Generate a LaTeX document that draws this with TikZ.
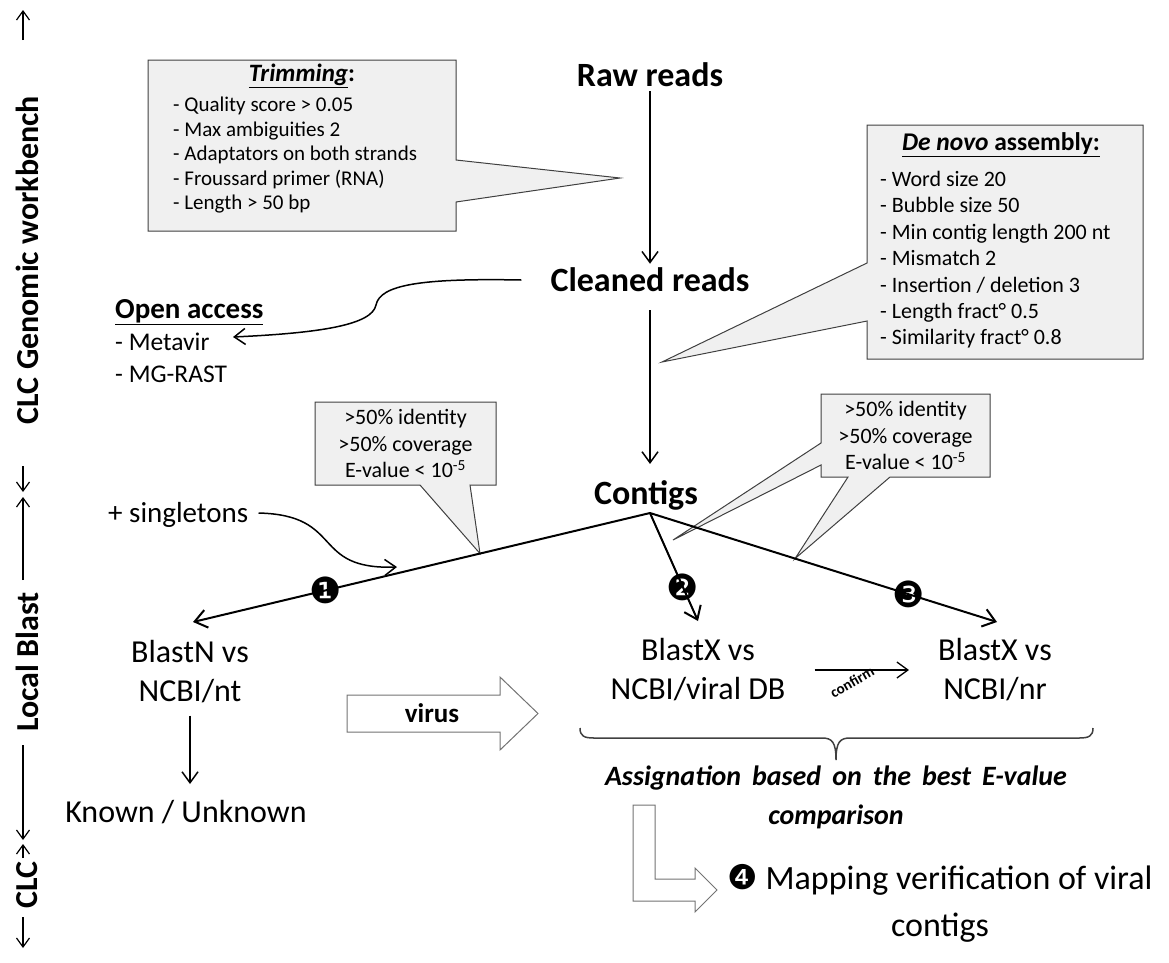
\documentclass[tikz,border=0pt]{standalone}
\usepackage{fontspec}
\setmainfont{Carlito}
\newfontfamily\dingfont{DejaVu Sans}
\usetikzlibrary{arrows.meta,calc}

\newcommand{\fsz}[2]{\fontsize{#1}{#2}\selectfont}

\tikzset{
  headtxt/.style={font=\fsz{34}{40}\bfseries, inner sep=4pt},
  blasttxt/.style={font=\fsz{32}{39}, align=center, inner sep=4pt},
  axistxt/.style={font=\fsz{32}{38}\bfseries, rotate=90, inner sep=0pt},
  listtxt/.style={align=left, inner sep=0pt, anchor=north west},
  crittxt/.style={font=\fsz{22}{26.5}, align=center, inner sep=0pt},
  boxarea/.style={inner sep=0pt, outer sep=0pt},
  callout/.style={fill=black!6, draw=black!75, line width=1pt, line join=miter},
  flowarr/.style={line width=1.5pt, -{Straight Barb[length=11pt,width=16pt]}},
  brancharr/.style={line width=2pt, -{Straight Barb[length=12pt,width=18pt]}},
  axisarr/.style={line width=1.2pt, -{Straight Barb[length=9pt,width=13pt]}},
  numdot/.style={font=\fsz{36}{36}\dingfont, inner sep=0pt},
  hollowarr/.style={draw=black!55, fill=white, line width=1pt, line join=miter},
  bracepen/.style={draw=black!75, line width=1.5pt}
}

\begin{document}
\begin{tikzpicture}[x=1pt, y=-1pt]
\useasboundingbox (0,0) rectangle (1169,962);

% side scale
\node[axistxt] (clcgw) at (27,260) {CLC Genomic workbench};
\node[axistxt] (lblast) at (27,662) {Local Blast};
\node[axistxt] (clc) at (27,885) {CLC};
\draw[axisarr] (23,40) -- (23,10);
\draw[axisarr] (23,466) -- (23,492);
\draw[axisarr] (23,580) -- (23,497);
\draw[axisarr] (23,745) -- (23,840);
\draw[axisarr] (23,858) -- (23,844);
\draw[axisarr] (23,917) -- (23,948);

% trimming callout
\node[boxarea, minimum width=308pt, minimum height=171pt] (trim) at (302,145.5) {};
\coordinate (trimtip) at (620,178);
\draw[callout] (trim.north west) -- (trim.north east) -- ([yshift=-100pt]trim.north east)
  -- (trimtip) -- ([yshift=-142pt]trim.north east) -- (trim.south east) -- (trim.south west) -- cycle;
\node[font=\fsz{25}{28}\bfseries] (trimtitle) at (302,76) {\underline{\textit{Trimming}}:};
\node[listtxt, font=\fsz{21}{24.5}] (trimlist) at (173,97)
  {- Quality score > 0.05\\- Max ambiguities 2\\- Adaptators on both strands\\- Froussard primer (RNA)\\- Length > 50 bp};

% de novo callout
\node[boxarea, minimum width=276pt, minimum height=234pt] (denovo) at (1005,242) {};
\coordinate (dntip) at (662,362);
\draw[callout] (denovo.north west) -- (denovo.north east) -- (denovo.south east) -- (denovo.south west)
  -- ([yshift=-196pt]denovo.north west) -- (dntip) -- ([yshift=-138pt]denovo.north west) -- cycle;
\node[font=\fsz{25.5}{28}\bfseries] (dntitle) at (1001,145) {\underline{\textit{De novo} assembly:}};
\node[listtxt, font=\fsz{22}{26.4}] (dnlist) at (880,171)
  {- Word size 20\\- Bubble size 50\\- Min contig length 200 nt\\- Mismatch 2\\- Insertion / deletion 3\\- Length fract° 0.5\\- Similarity fract° 0.8};

% branch points
\coordinate (split) at (650,513);
\coordinate (ntin) at (193,622);
\coordinate (virin) at (698,621);
\coordinate (nrin) at (997,622);

% blast criteria
\node[boxarea, minimum width=181pt, minimum height=83pt] (crit1) at (405.5,443.5) {};
\coordinate (crit1tip) at ($(split)!0.372!(ntin)$);
\draw[callout] (crit1.north west) -- (crit1.north east) -- (crit1.south east) -- ([xshift=155pt]crit1.south west)
  -- (crit1tip) -- ([xshift=105pt]crit1.south west) -- (crit1.south west) -- cycle;
\node[crittxt] (crit1txt) at (crit1) {>50\% identity\\>50\% coverage\\E-value < 10\textsuperscript{-5}};

\node[boxarea, minimum width=169pt, minimum height=83pt] (crit2) at (905.5,435.5) {};
\coordinate (crit2tipa) at (673,540);
\coordinate (crit2tipb) at ($(split)!0.418!(nrin)$);
\draw[callout] (crit2.north west) -- (crit2.north east) -- (crit2.south east) -- ([xshift=69pt]crit2.south west)
  -- (crit2tipb) -- ([xshift=27pt]crit2.south west) -- (crit2.south west) -- ([yshift=-71pt]crit2.north west)
  -- (crit2tipa) -- ([yshift=-49pt]crit2.north west) -- cycle;
\node[crittxt] (crit2txt) at (crit2) {>50\% identity\\>50\% coverage\\E-value < 10\textsuperscript{-5}};

% main flow
\node[headtxt] (raw) at (650,75) {Raw reads};
\node[headtxt] (clean) at (650,280) {Cleaned reads};
\node[headtxt] (contigs) at (646,495) {Contigs};
\draw[flowarr] (raw) -- (clean);
\draw[flowarr, shorten <=14pt, shorten >=12pt] (clean.south) -- (clean.south |- contigs.north);

\draw[brancharr] (split) -- (ntin) node[numdot, pos=0.709] (n1) {❶};
\draw[brancharr] (split) -- (virin) node[numdot, pos=0.685] (n2) {❷};
\draw[brancharr] (split) -- (nrin) node[numdot, pos=0.744] (n3) {❸};

% open access
\node[listtxt, font=\fsz{25.5}{32}] (oa) at (115,299) {{\fsz{29}{33}\bfseries\underline{Open access}}\\- Metavir\\- MG-RAST};
\coordinate (oatip) at (233,337);
\draw[flowarr] ([xshift=-25pt]clean.west) .. controls (420,278) and (380,285) .. (376,305)
  .. controls (372,325) and (320,333) .. (oatip);

% singletons
\node[font=\fsz{29}{34}, anchor=west, inner sep=0pt] (single) at (108,515) {+ singletons};
\coordinate (singletip) at (397,567);
\draw[flowarr] ([xshift=10pt,yshift=2pt]single.east) .. controls (345,515) and (310,570) .. (singletip);

% blast results
\node[blasttxt] (blastn) at (190,672) {BlastN vs\\NCBI/nt};
\node[blasttxt] (blastx) at (698,670) {BlastX vs\\NCBI/viral DB};
\node[blasttxt] (blastnr) at (995,670) {BlastX vs\\NCBI/nr};
\node[blasttxt] (known) at (186,812) {Known / Unknown};
\draw[flowarr, shorten <=8pt, shorten >=12pt] (blastn.south) -- (blastn.south |- known.north);

\draw[flowarr, line width=1.3pt, shorten <=25pt, shorten >=25pt] (blastx.east) -- (blastnr.west);
\node[font=\fsz{15}{17}\bfseries, rotate=30] (conf) at (852,682) {confirm};

% virus arrow
\draw[hollowarr] (347,695) -- (500,695) -- (500,677) -- (538,713.5) -- (500,750) -- (500,732) -- (347,732) -- cycle;
\node[font=\fsz{27}{30}\bfseries] (virus) at (432,713) {virus};

% brace and assignation
\draw[bracepen] (580,728) .. controls (580,736) and (584,738) .. (594,738) -- (822,738)
  .. controls (832,738) and (836,742) .. (836,760) .. controls (836,742) and (840,738) .. (850,738)
  -- (1079,738) .. controls (1089,738) and (1093,736) .. (1093,728);
\node[font=\fsz{28}{39}\bfseries\itshape, align=center] (assign) at (836,797)
  {\makebox[462pt][s]{Assignation based on the best E-value}\\comparison};

% mapping
\draw[hollowarr] (633,805) -- (655,805) -- (655,879) -- (695,879) -- (695,868) -- (717,890)
  -- (695,912) -- (695,901) -- (633,901) -- cycle;
\node[font=\fsz{34}{47}, align=center] (mapping) at (940,903)
  {{\dingfont\fsz{34}{47}❹} Mapping verification of viral\\contigs};
\end{tikzpicture}
\end{document}
